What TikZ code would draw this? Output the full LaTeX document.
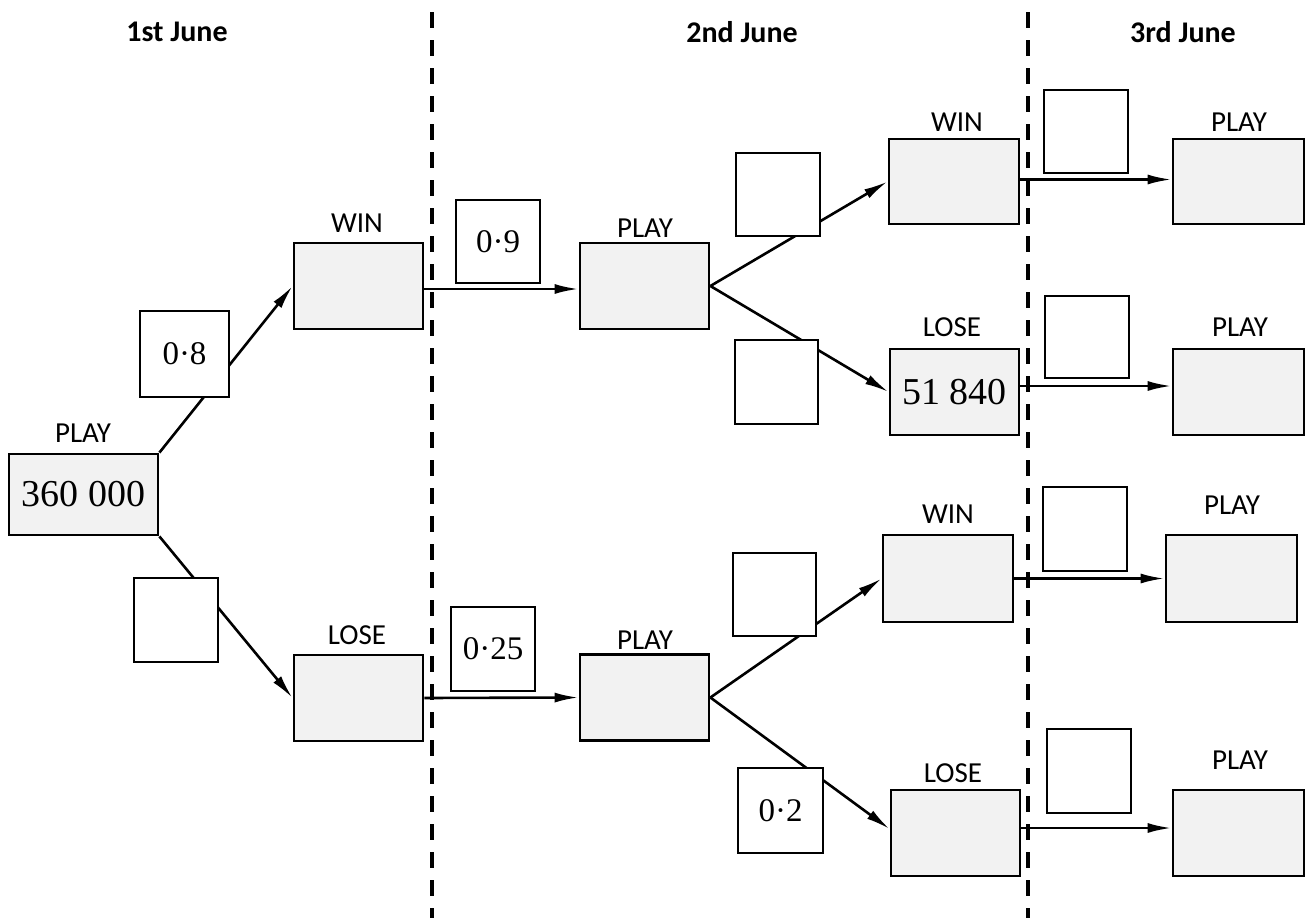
\documentclass[tikz,border=0pt]{standalone}
\usepackage{fontspec}
\newfontfamily\labfont{Carlito}
\newfontfamily\numfont{Liberation Serif}
\usetikzlibrary{arrows.meta}
\definecolor{boxfill}{HTML}{F2F2F2}
\tikzset{
  gbox/.style={draw, line width=2.8pt, fill=boxfill, inner sep=0pt, minimum width=129pt, minimum height=86pt, font=\numfont\fontsize{38}{40}\selectfont},
  pbox/.style={draw, line width=2.6pt, fill=white, inner sep=0pt, minimum width=84pt, minimum height=84pt, font=\numfont\fontsize{33}{35}\selectfont},
  lab/.style={font=\labfont\fontsize{29}{31}\selectfont, inner sep=0pt},
  head/.style={font=\labfont\bfseries\fontsize{30}{32}\selectfont, inner sep=0pt},
  arr/.style={line width=2.6pt, -{Latex[length=24pt, width=10pt]}},
  divider/.style={line width=4.5pt, dash pattern=on 16pt off 12pt}
}
\begin{document}
\begin{tikzpicture}[x=1pt, y=-1pt]
\useasboundingbox (0,0) rectangle (1308,918);
% headers
\node[head] (h1) at (177,32) {1st June};
\node[head] (h2) at (742,32) {2nd June};
\node[head] (h3) at (1183,32) {3rd June};
% dividers
\coordinate (d1t) at (432,12); \coordinate (d1b) at (432,918);
\coordinate (d2t) at (1028,12); \coordinate (d2b) at (1028,918);
\draw[divider] (d1t) -- (d1b);
\draw[divider] (d2t) -- (d2b);
% outcome boxes
\node[gbox, minimum width=149pt, minimum height=81pt] (s) at (83.5,494.5) {360 000};
\node[lab] (ls) at (83,433) {PLAY};
\node[gbox] (w1) at (358.5,286) {};
\node[lab] (lw1) at (357,223) {WIN};
\node[gbox] (l1) at (358.5,698) {};
\node[lab] (ll1) at (357,635) {LOSE};
\node[gbox] (p2a) at (644.5,286) {};
\node[lab] (lp2a) at (645,228) {PLAY};
\node[gbox] (p2b) at (644.5,697.5) {};
\node[lab] (lp2b) at (645,640) {PLAY};
\node[gbox, minimum width=130pt, minimum height=85pt] (w2a) at (954,181.5) {};
\node[lab] (lw2a) at (957,122) {WIN};
\node[gbox] (l2a) at (954.5,392) {51 840};
\node[lab] (ll2a) at (952,327) {LOSE};
\node[gbox, minimum width=130pt, minimum height=87pt] (w2b) at (948,578.5) {};
\node[lab] (lw2b) at (948,514) {WIN};
\node[gbox] (l2b) at (955.5,833) {};
\node[lab] (ll2b) at (953,773) {LOSE};
\node[gbox, minimum width=131pt, minimum height=85pt] (p3a) at (1238.5,181.5) {};
\node[lab] (lp3a) at (1239,122) {PLAY};
\node[gbox, minimum width=131pt] (p3b) at (1238.5,392) {};
\node[lab] (lp3b) at (1240,327) {PLAY};
\node[gbox, minimum width=131pt, minimum height=87pt] (p3c) at (1231.5,578.5) {};
\node[lab] (lp3c) at (1232,505) {PLAY};
\node[gbox, minimum width=131pt] (p3d) at (1238.5,833) {};
\node[lab] (lp3d) at (1240,760) {PLAY};
% connectors
\draw[arr] (s.north east) -- (w1.west);
\draw[arr] (s.south east) -- (l1.west);
\draw[arr] ([yshift=-3pt]w1.east) -- ([yshift=-3pt]p2a.west);
\draw[arr] (l1.east) -- (p2b.west);
\draw[arr] (p2a.east) -- (w2a.west);
\draw[arr] (p2a.east) -- (l2a.west);
\draw[arr] (p2b.east) -- (w2b.west);
\draw[arr] (p2b.east) -- ([yshift=4pt]l2b.west);
\draw[arr] ([yshift=2pt]w2a.east) -- ([yshift=2pt]p3a.west);
\draw[arr] ([yshift=6pt]l2a.east) -- ([yshift=6pt]p3b.west);
\draw[arr] (w2b.east) -- (p3c.west);
\draw[arr] ([yshift=5pt]l2b.east) -- ([yshift=5pt]p3d.west);
% probability boxes
\node[pbox, minimum width=89pt, minimum height=86pt] (q1) at (184.5,354) {0·8};
\node[pbox] (q2) at (176,620) {};
\node[pbox, minimum height=83pt] (q3) at (498,241.5) {0·9};
\node[pbox] (q4) at (493,649) {0·25};
\node[pbox, minimum height=83pt] (q5) at (778,194.5) {};
\node[pbox, minimum width=83pt] (q6) at (776.5,382) {};
\node[pbox, minimum width=83pt, minimum height=83pt] (q7) at (774.5,594.5) {};
\node[pbox, minimum width=85pt, minimum height=85pt] (q8) at (780.5,810.5) {0·2};
\node[pbox, minimum height=83pt] (q9) at (1086,131.5) {};
\node[pbox, minimum height=82pt] (q10) at (1087,337) {};
\node[pbox] (q11) at (1085,529) {};
\node[pbox] (q12) at (1089,771) {};
\end{tikzpicture}
\end{document}
